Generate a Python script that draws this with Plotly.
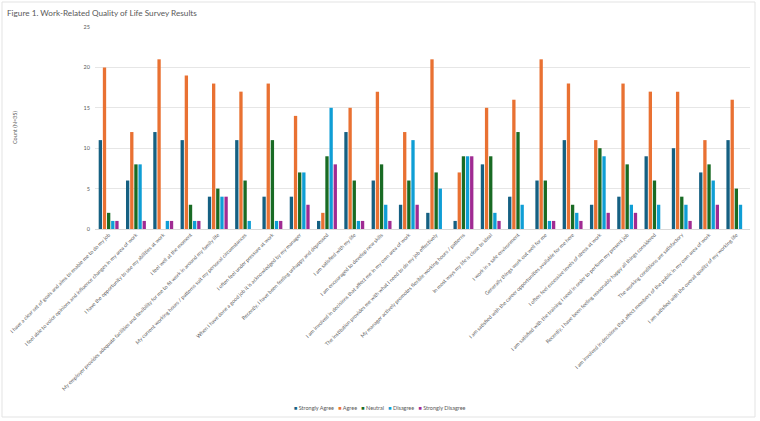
import plotly.graph_objects as go

categories = [
    "I have a clear set of goals and aims to enable me to do my job",
    "I feel able to voice opinions and influence changes in my area of work",
    "I have the opportunity to use my abilities at work",
    "I feel well at the moment",
    "My employer provides adequate facilities and flexibility for me to fit work in around my family life",
    "My current working hours / patterns suit my personal circumstances",
    "I often feel under pressure at work",
    "When I have done a good job it is acknowledged by my manager",
    "Recently, I have been feeling unhappy and depressed",
    "I am satisfied with my life",
    "I am encouraged to develop new skills",
    "I am involved in decisions that affect me in my own area of work",
    "The institution provides me with what I need to do my job effectively",
    "My manager actively promotes flexible working hours / patterns",
    "In most ways my life is close to ideal",
    "I work in a safe environment",
    "Generally things work out well for me",
    "I am satisfied with the career opportunities available for me here",
    "I often feel excessive levels of stress at work",
    "I am satisfied with the training I need in order to perform my present job",
    "Recently, I have been feeling reasonably happy all things considered",
    "The working conditions are satisfactory",
    "I am involved in decisions that affect members of the public in my own area of work",
    "I am satisfied with the overall quality of my working life",
]

strongly_agree = [11, 6, 12, 11, 4, 11, 4, 4, 1, 12, 6, 3, 2, 1, 8, 4, 6, 11, 3, 4, 9, 10, 7, 11]
agree = [20, 12, 21, 19, 18, 17, 18, 14, 2, 15, 17, 12, 21, 7, 15, 16, 21, 18, 11, 18, 17, 17, 11, 16]
neutral = [2, 8, 0, 3, 5, 6, 11, 7, 9, 6, 8, 6, 7, 9, 9, 12, 6, 3, 10, 8, 6, 4, 8, 5]
disagree = [1, 8, 1, 1, 4, 1, 1, 7, 15, 1, 3, 11, 5, 9, 2, 3, 1, 2, 9, 3, 3, 3, 6, 3]
strongly_disagree = [1, 1, 1, 1, 4, 0, 1, 3, 8, 1, 1, 3, 0, 9, 1, 0, 1, 1, 2, 2, 0, 1, 3, 0]

series_names = ["Strongly Agree", "Agree", "Neutral", "Disagree", "Strongly Disagree"]
series_values = [strongly_agree, agree, neutral, disagree, strongly_disagree]
colors = ["#156082", "#E97132", "#196B24", "#0F9ED5", "#A02B93"]

W, H = 760, 421
L, R, T, B = 95, 10, 27, 192
pw, ph = W - L - R, H - T - B

fig = go.Figure()
for name, vals, col in zip(series_names, series_values, colors):
    fig.add_trace(go.Bar(x=categories, y=vals, name=name, marker_color=col,
                         marker_line_width=0, showlegend=False))

font_family = "Lato, Open Sans, sans-serif"

def px_x(p):
    return (p - L) / pw

def px_y(p):
    return (H - B - p) / ph

# compact legend built as text, colours taken from the series
legend_text = "&nbsp;&nbsp;&nbsp;".join(
    f'<span style="color:{c}">■</span>&nbsp;{n}' for n, c in zip(series_names, colors)
)

fig.update_layout(
    width=W, height=H,
    margin=dict(l=L, r=R, t=T, b=B, autoexpand=False),
    paper_bgcolor="white", plot_bgcolor="white",
    barmode="group", bargap=0.24, bargroupgap=0.2,
    font=dict(family=font_family, color="#595959"),
    title=dict(text="Figure 1. Work-Related Quality of Life Survey Results",
               x=7 / W, xanchor="left", y=1 - 13 / H, yanchor="middle",
               font=dict(size=8.2, color="#595959", family=font_family)),
    xaxis=dict(tickangle=-45, tickfont=dict(size=5.2, color="#595959"),
               showgrid=False, showline=True, linecolor="#d9d9d9", linewidth=1,
               ticks="", automargin=False),
    yaxis=dict(range=[0, 25], dtick=5, tickfont=dict(size=5.5, color="#595959"),
               showgrid=True, gridcolor="#e6e6e6", gridwidth=1,
               zeroline=False, showline=False, ticks="", automargin=False,
               ticklabelstandoff=4),
    showlegend=False,
    annotations=[
        dict(text="Count (N=35)", xref="paper", yref="paper",
             x=px_x(15), y=px_y(128), textangle=-90, showarrow=False,
             font=dict(size=5.5, color="#595959"),
             xanchor="center", yanchor="middle"),
        dict(text=legend_text, xref="paper", yref="paper",
             x=px_x(380), y=px_y(408), showarrow=False,
             font=dict(size=5.5, color="#595959"),
             xanchor="center", yanchor="middle"),
    ],
    shapes=[dict(type="rect", xref="paper", yref="paper",
                 x0=px_x(2), x1=px_x(755), y0=px_y(417), y1=px_y(2),
                 line=dict(color="#e3e3e3", width=1), fillcolor="rgba(0,0,0,0)",
                 layer="below")],
)

fig.write_html("out.html")
